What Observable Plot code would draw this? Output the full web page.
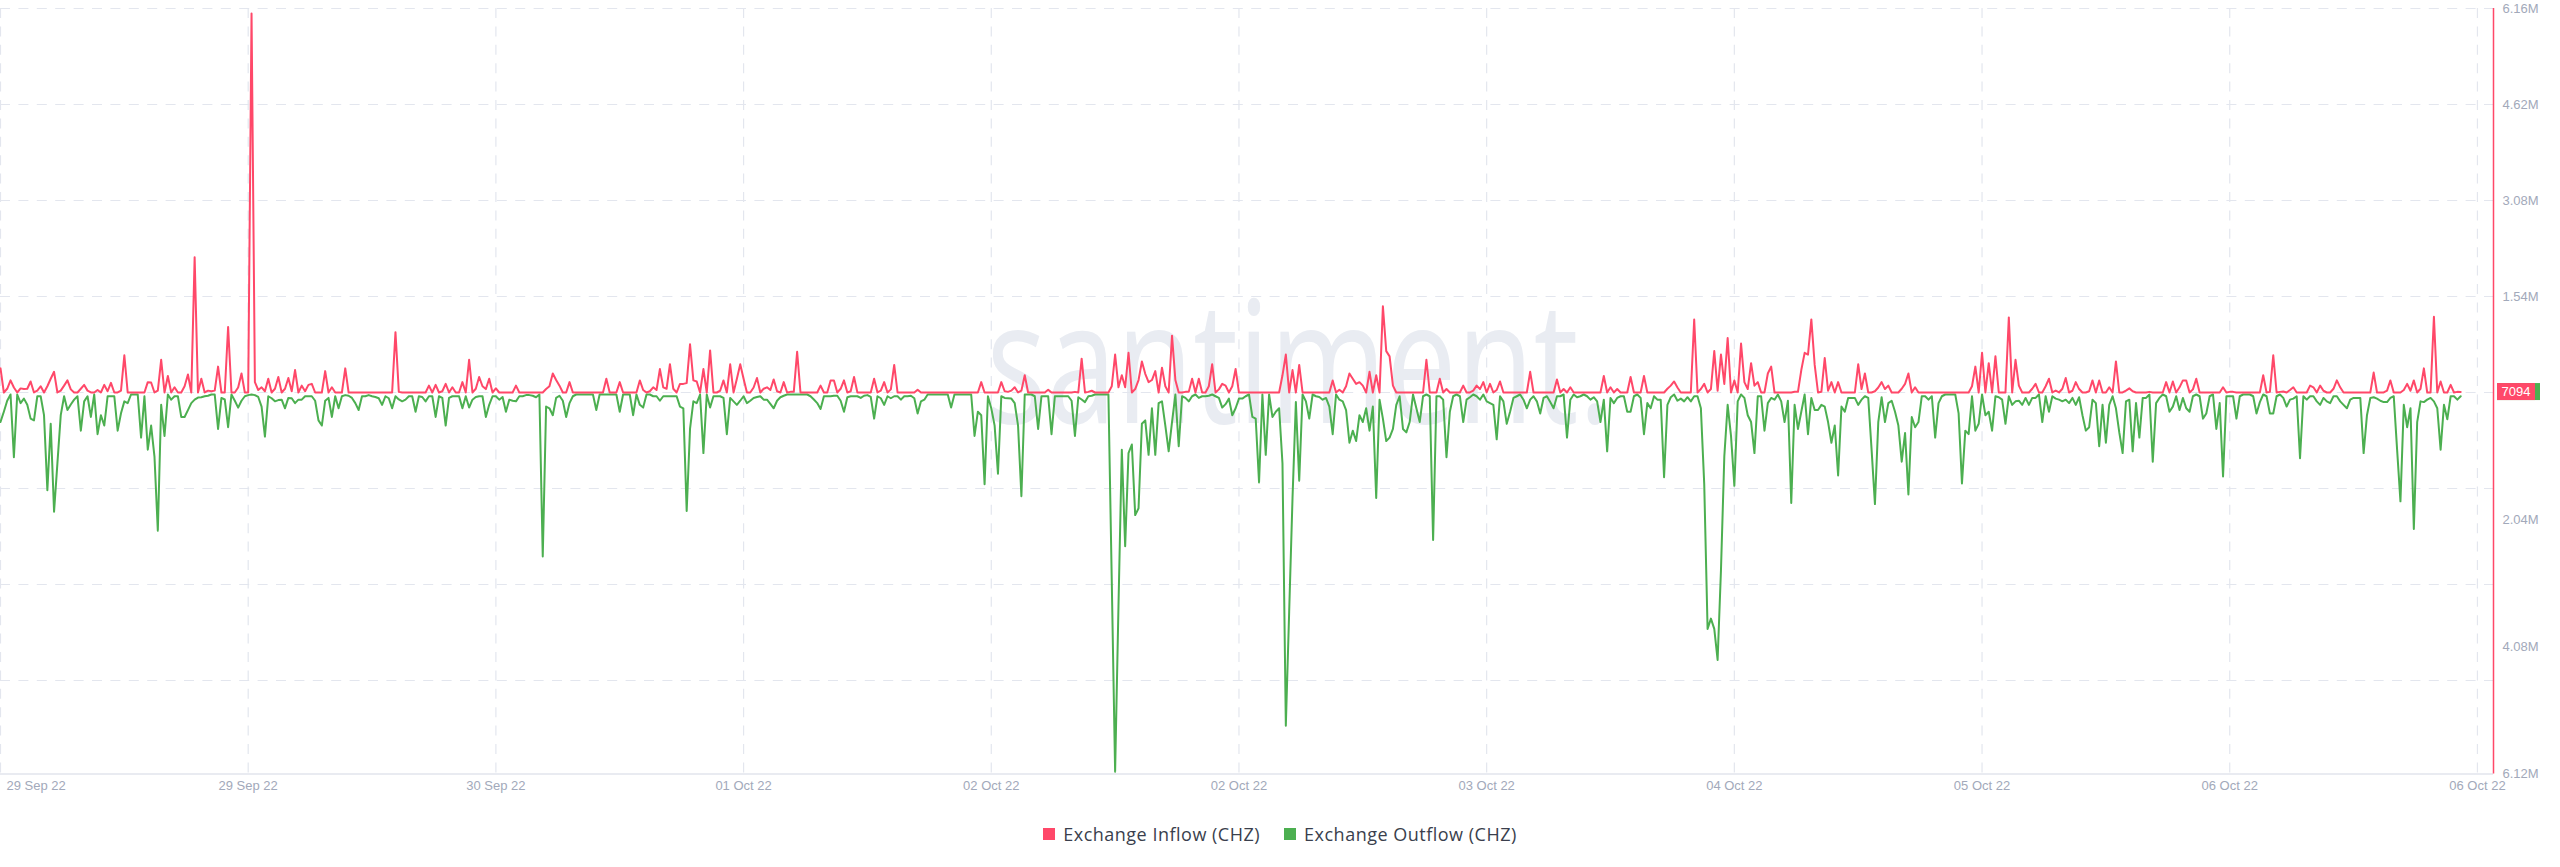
<!DOCTYPE html>
<html><head><meta charset="utf-8">
<script src="https://cdn.jsdelivr.net/npm/d3@7"></script>
<script src="https://cdn.jsdelivr.net/npm/@observablehq/plot@0.6"></script>
<style>
html,body{margin:0;padding:0;background:#fff;}
body{width:2560px;height:867px;overflow:hidden;position:relative;font-family:"Liberation Sans",Arial,sans-serif;}
#legend{position:absolute;left:0;top:824px;width:2560px;height:20px;display:flex;justify-content:center;align-items:center;font-family:"Open Sans",sans-serif;font-size:18px;letter-spacing:0.5px;color:#3a3f4d;}
#legend .item{display:flex;align-items:center;margin:0 12px;}
#legend .sw{width:12px;height:12px;margin-right:8px;display:inline-block;}
</style></head><body>
<div id="chart"></div>
<div id="legend"></div>
<script>
// ---- data (values in thousands of CHZ, 15-minute steps) ----
const startTime = "2022-09-29T03:00:00Z";
const stepMinutes = 15;
const xDomainEnd = "2022-10-06T21:12:00Z";

const inflowK = [
387,0,60,194,80,0,66,55,60,177,
0,30,100,0,100,220,332,0,30,110,
194,50,0,0,60,122,30,0,0,40,
0,122,20,155,0,0,30,597,0,0,
0,0,0,0,166,160,0,30,525,0,
265,0,83,0,0,100,288,0,2168,0,
221,0,30,20,30,415,0,0,1051,0,
0,80,304,0,0,6080,166,40,83,20,
221,0,60,249,0,60,232,20,360,0,
110,20,122,138,0,0,0,343,0,83,
0,0,0,387,0,0,0,0,0,0,
0,0,0,0,0,0,0,0,968,10,
0,0,0,0,0,0,0,0,110,0,
122,0,20,138,0,83,0,0,166,0,
525,0,60,249,100,55,221,0,66,0,
0,0,0,0,110,0,0,0,0,0,
0,0,0,55,100,304,200,110,0,0,
166,0,0,0,0,0,0,0,0,0,
0,221,0,0,0,166,0,0,0,0,
0,194,40,0,20,83,40,376,83,60,
453,60,0,138,138,150,774,194,177,0,
376,0,675,0,0,28,194,0,453,0,
221,453,221,0,0,80,232,0,60,83,
40,210,20,0,166,0,10,10,653,0,
0,0,0,0,0,110,0,0,194,194,
0,60,194,0,20,249,0,0,0,0,
0,221,0,30,166,0,50,442,0,0,
0,0,0,0,44,0,0,0,0,0,
0,0,0,0,0,0,0,0,0,0,
0,0,0,166,0,0,0,0,0,166,
20,10,30,83,0,30,276,0,0,0,
0,0,0,44,0,0,0,0,0,0,
0,10,0,542,0,10,28,0,0,0,
0,0,100,608,83,276,83,636,0,55,
200,498,300,166,200,343,0,398,100,0,
912,200,0,0,10,10,221,0,221,0,
0,100,453,0,50,138,110,0,100,376,
0,0,0,0,0,0,0,0,0,0,
0,0,0,276,608,0,360,0,442,0,
0,0,0,0,0,0,0,0,194,0,
44,0,100,304,221,138,166,110,0,332,
0,276,0,1382,664,580,110,0,0,0,
0,0,0,0,0,0,525,0,0,0,
221,0,55,0,0,0,0,110,0,0,
30,110,55,166,0,138,0,40,177,0,
0,0,0,0,0,0,0,332,0,0,
0,0,0,0,0,210,0,55,0,83,
0,0,0,0,0,0,0,0,0,265,
0,83,0,55,0,0,0,249,0,0,
0,265,0,0,0,0,0,0,60,110,
177,80,0,0,0,0,1172,0,55,138,
0,55,664,28,608,138,874,0,194,0,
785,166,55,470,110,166,0,0,304,415,
0,0,0,0,0,0,11,11,360,636,
608,1172,442,0,11,553,28,166,0,166,
0,0,0,0,0,453,55,304,0,0,
20,80,166,55,110,0,0,0,60,138,
304,0,83,0,0,0,0,0,0,0,
0,0,0,0,0,0,0,0,0,100,
415,0,636,0,470,0,580,0,0,0,
1205,0,525,110,0,0,0,60,138,0,
0,100,221,0,30,0,60,232,0,28,
166,55,0,0,20,194,0,194,0,0,
83,0,498,0,0,30,66,20,0,0,
0,0,10,0,0,0,0,166,0,177,
0,83,194,194,0,50,221,0,0,0,
0,0,0,0,83,0,10,10,0,0,
0,0,0,0,0,0,276,0,10,597,
0,10,17,0,40,83,0,0,0,0,
110,83,0,110,28,0,0,60,194,83,
0,0,0,0,0,0,0,0,0,320,
0,0,0,30,194,0,0,0,40,138,
28,194,0,60,387,0,0,1216,0,177,
0,0,122,0,10,7.094
];

const outflowK = [
442,276,100,0,1006,0,138,66,166,387,
415,28,28,332,1537,470,1880,1106,332,28,
249,160,83,28,580,110,28,360,0,636,
332,498,28,28,28,580,300,110,138,0,
0,0,691,28,885,498,995,2184,166,664,
0,83,28,28,360,360,250,138,83,50,
44,28,20,0,0,553,55,80,525,0,
100,210,100,28,10,0,10,40,194,675,
28,60,110,90,83,221,55,60,138,83,
83,28,28,28,100,415,498,100,55,360,
28,221,28,10,20,55,138,249,28,28,
10,28,40,60,166,28,60,221,28,80,
110,83,28,28,276,28,40,110,28,28,
360,28,55,498,55,28,28,28,221,28,
210,83,40,28,28,360,166,28,28,83,
40,276,83,100,110,28,28,10,10,20,
44,0,2600,194,221,332,55,20,100,360,
138,28,0,0,0,0,0,0,249,0,
0,0,0,0,0,276,0,0,0,332,
0,166,210,0,0,28,28,100,28,28,
28,28,28,194,221,1869,553,110,138,0,
940,0,210,28,28,28,55,636,55,110,
166,100,28,138,100,55,40,28,83,83,
150,221,100,44,20,0,0,0,0,0,
0,0,28,80,138,232,28,28,28,20,
20,100,276,44,28,28,28,55,20,10,
40,387,28,60,166,28,60,28,28,83,
28,28,20,60,304,110,83,0,0,0,
0,0,0,0,210,0,0,0,0,0,
0,664,276,332,1438,28,221,500,1272,28,
55,60,66,138,500,1631,0,0,0,28,
553,28,28,28,636,28,28,28,28,28,
100,664,44,80,122,28,20,0,0,0,
0,0,3000,6050,3400,885,2433,940,802,1935,
1825,470,415,968,221,968,138,110,498,912,
442,0,830,28,55,110,28,0,55,28,
28,20,0,28,55,210,155,66,332,221,
66,66,28,0,360,387,1410,0,968,0,
360,276,221,1106,5313,3484,1659,122,1382,0,
110,387,0,28,40,83,55,194,636,0,
83,110,249,774,580,747,332,442,221,580,
194,1659,83,387,747,691,553,166,28,553,
608,442,0,221,442,28,0,28,2334,28,
28,83,1006,276,28,0,28,442,83,44,
0,28,83,0,110,138,166,719,28,110,
470,276,55,28,0,83,221,83,28,110,
304,55,28,122,221,28,28,0,691,83,
0,44,28,0,28,83,44,110,442,83,
912,55,138,55,28,28,276,276,28,0,
55,636,138,221,28,83,83,1327,166,44,
0,100,66,110,44,110,28,28,221,1438,
3760,3595,3760,4258,2820,995,166,664,1465,110,
0,55,332,442,940,28,28,580,138,55,
83,0,110,442,100,1742,166,553,276,0,
636,55,249,249,166,194,442,774,498,1300,
194,276,55,55,55,166,83,28,55,885,
1758,442,44,442,138,100,276,498,1078,619,
1604,360,525,442,28,28,83,28,691,138,
28,0,0,0,0,304,1427,580,636,28,
580,470,0,332,276,580,28,44,83,470,
28,166,110,100,166,55,166,55,55,0,
442,28,276,28,66,83,110,83,138,55,
166,44,332,580,525,83,138,830,166,774,
166,28,221,608,940,110,83,912,138,691,
55,55,0,1078,138,55,0,28,276,194,
28,249,55,221,276,28,0,28,387,304,
28,0,553,138,1316,28,28,28,387,28,
0,0,0,28,304,122,0,28,304,304,
28,0,55,194,83,66,28,1023,28,83,
28,28,110,166,55,110,138,28,28,110,
166,221,83,55,55,55,940,332,55,44,
66,100,122,122,55,28,885,1714,166,525,
221,2157,442,110,122,83,55,110,221,885,
166,398,28,28,83,28
];

const xTickDates = [
"2022-09-29T03:00:00Z","2022-09-29T21:30:00Z","2022-09-30T16:00:00Z",
"2022-10-01T10:30:00Z","2022-10-02T05:00:00Z","2022-10-02T23:30:00Z",
"2022-10-03T18:00:00Z","2022-10-04T12:30:00Z","2022-10-05T07:00:00Z",
"2022-10-06T01:30:00Z","2022-10-06T20:00:00Z"
];
const xTickLabels = ["29 Sep 22","29 Sep 22","30 Sep 22","01 Oct 22","02 Oct 22","02 Oct 22",
"03 Oct 22","04 Oct 22","05 Oct 22","06 Oct 22","06 Oct 22"];

const yTicksUpper = [6.16, 4.62, 3.08, 1.54];          // millions, inflow side
const yTickLabelsUpper = ["6.16M","4.62M","3.08M","1.54M"];
const yTicksLower = [2.04, 4.08, 6.12];                 // millions, outflow side
const yTickLabelsLower = ["2.04M","4.08M","6.12M"];
const yGridLines = [6.16, 4.62, 3.08, 1.54, 0, -1.54, -3.08, -4.62];
const yDomain = [-6.12, 6.16];

const seriesNames = ["Exchange Inflow (CHZ)", "Exchange Outflow (CHZ)"];
const seriesColors = ["#ff4869", "#4caf50"];
const lastValueLabel = "7094";
const watermarkText = "santiment.";

// ---- build ----
const t0 = new Date(startTime).getTime();
const rows = inflowK.map((v, i) => ({
  t: new Date(t0 + i * stepMinutes * 60000),
  inflow: v * 1000,
  outflow: -outflowK[i] * 1000
}));
const tickDates = xTickDates.map(d => new Date(d));
const xLabelMap = new Map(tickDates.map((d, i) => [+d, xTickLabels[i]]));
const yUpMap = new Map(yTicksUpper.map((v, i) => [v * 1e6, yTickLabelsUpper[i]]));
const yLowMap = new Map(yTicksLower.map((v, i) => [-v * 1e6, yTickLabelsLower[i]]));

const gridColor = "#e3e6ee";
const axisText = "#a2a9ba";

const chart = Plot.plot({
  width: 2560,
  height: 800,
  marginTop: 8,
  marginBottom: 26.5,
  marginLeft: 0,
  marginRight: 67,
  style: {background: "white", fontFamily: "'Liberation Sans', Arial, sans-serif", fontSize: "13px", color: axisText, overflow: "visible"},
  x: {type: "utc", domain: [new Date(startTime), new Date(xDomainEnd)], label: null},
  y: {domain: yDomain.map(v => v * 1e6), label: null},
  marks: [
    Plot.text([watermarkText], {text: d => d, frameAnchor: "middle", dx: 52, dy: 32, lineAnchor: "bottom",
      fontSize: 170, fontFamily: "'Open Sans', sans-serif", fill: "#e9ecf2", className: "wm"}),
    Plot.ruleY(yGridLines.map(v => v * 1e6), {stroke: gridColor, strokeDasharray: "10,8.4", strokeWidth: 1.2}),
    Plot.ruleX(tickDates, {stroke: gridColor, strokeDasharray: "10,8.4", strokeWidth: 1.2}),
    Plot.ruleY([yDomain[0] * 1e6], {stroke: "#e2e5ed", strokeWidth: 1.5}),
    Plot.line(rows, {x: "t", y: "outflow", stroke: seriesColors[1], strokeWidth: 2, dy: 2}),
    Plot.line(rows, {x: "t", y: "inflow", stroke: seriesColors[0], strokeWidth: 2}),
    Plot.ruleX([new Date(xDomainEnd)], {stroke: seriesColors[0], strokeWidth: 1.5}),
    Plot.axisY({ticks: yTicksUpper.map(v => v * 1e6), anchor: "right", tickSize: 0, tickPadding: 9, label: null,
      tickFormat: d => yUpMap.get(d), fill: axisText}),
    Plot.axisY({ticks: yTicksLower.map(v => -v * 1e6), anchor: "right", tickSize: 0, tickPadding: 9, label: null,
      tickFormat: d => yLowMap.get(d), fill: axisText}),
    Plot.axisX({ticks: tickDates.slice(1), anchor: "bottom", tickSize: 0, tickPadding: 7, label: null,
      tickFormat: d => xLabelMap.get(+d), fill: axisText}),
    Plot.axisX({ticks: tickDates.slice(0, 1), anchor: "bottom", tickSize: 0, tickPadding: 7, textAnchor: "start", dx: 6, label: null,
      tickFormat: d => xLabelMap.get(+d), fill: axisText})
  ]
});
document.getElementById("chart").appendChild(chart);

// watermark: condensed width
d3.select(chart).selectAll(".wm text").attr("textLength", 625).attr("lengthAdjust", "spacingAndGlyphs");

// last value badge, positioned through the plot scales
const ys = chart.scale("y"), xs = chart.scale("x");
const yLast = ys.apply(inflowK[inflowK.length - 1] * 1000);
const xRight = xs.range[1];
const badge = d3.select(chart).append("g");
badge.append("rect").attr("x", xRight + 4).attr("y", yLast - 8.5).attr("width", 43).attr("height", 17).attr("fill", seriesColors[1]);
badge.append("rect").attr("x", xRight + 4).attr("y", yLast - 8.5).attr("width", 38).attr("height", 17).attr("fill", seriesColors[0]);
badge.append("text").attr("x", xRight + 23).attr("y", yLast).attr("dy", "0.36em").attr("text-anchor", "middle")
  .attr("fill", "white").style("font-size", "13px").text(lastValueLabel);

// legend
const legend = d3.select("#legend");
seriesNames.forEach((name, i) => {
  const item = legend.append("span").attr("class", "item");
  item.append("span").attr("class", "sw").style("background", seriesColors[i]);
  item.append("span").text(name);
});
</script>
</body></html>
